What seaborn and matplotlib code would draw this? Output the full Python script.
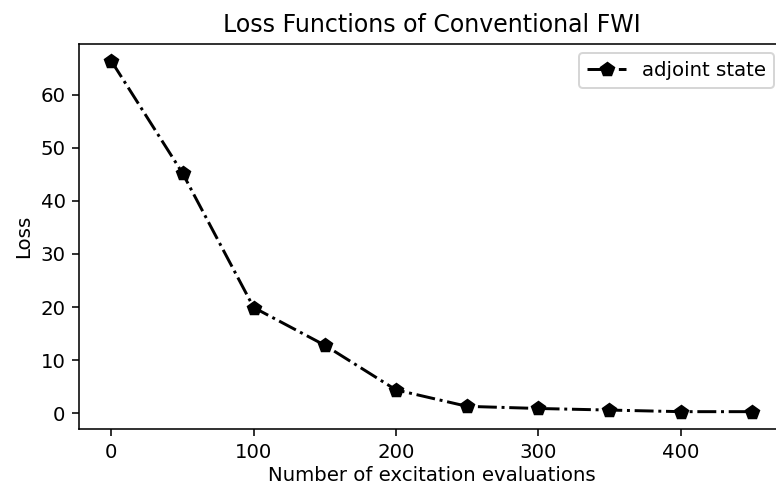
import matplotlib
matplotlib.use("Agg")
import matplotlib.pyplot as plt
import seaborn as sns
import pandas as pd

evaluations = [0, 50, 100, 150, 200, 250, 300, 350, 400, 450]
loss = [66.3, 45.2, 19.9, 12.8, 4.4, 1.3, 0.9, 0.6, 0.3, 0.3]

df = pd.DataFrame({"evals": evaluations, "loss": loss})

DPI = 142
fig = plt.figure(figsize=(776 / DPI, 486 / DPI), dpi=DPI)
ax = fig.add_axes([0.1023, 0.1169, 0.9077, 0.7934])
sns.lineplot(data=df, x="evals", y="loss", ax=ax, color="black", marker="p",
             markersize=7, linewidth=1.5, linestyle="-.", label="adjoint state",
             markeredgecolor="black")
ax.set_title("Loss Functions of Conventional FWI")
ax.set_xlabel("Number of excitation evaluations", labelpad=2)
ax.set_ylabel("Loss")
ax.set_xticks([0, 100, 200, 300, 400])
ax.set_yticks([0, 10, 20, 30, 40, 50, 60])
ax.legend(loc="upper right")
fig.savefig("out.png", dpi=DPI)
